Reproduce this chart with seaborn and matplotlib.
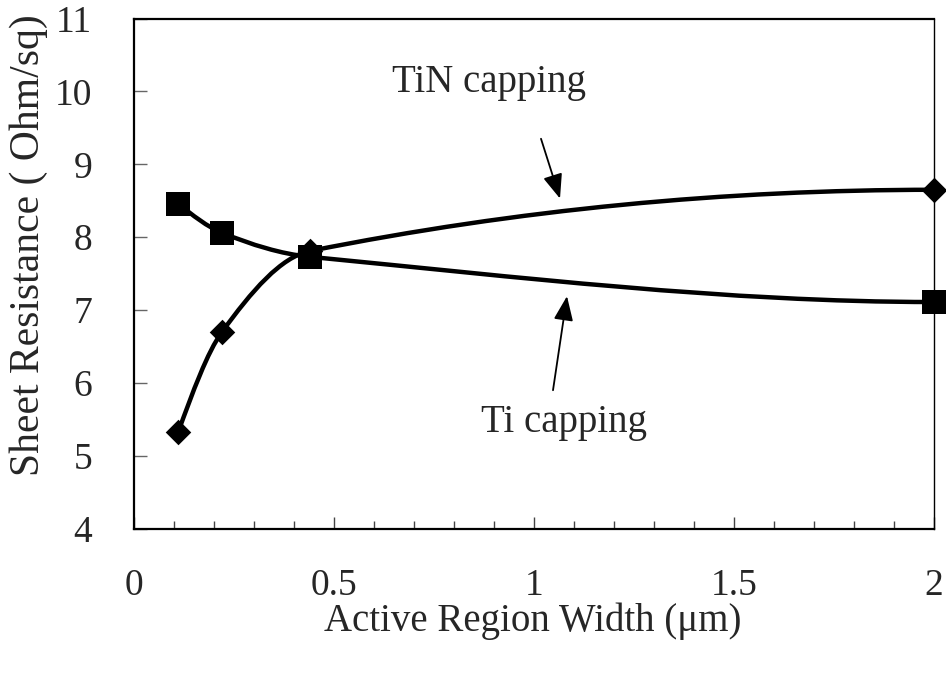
import numpy as np
import pandas as pd
import seaborn as sns
import matplotlib
matplotlib.use("Agg")
import matplotlib.pyplot as plt
from matplotlib.path import Path
from matplotlib.patches import PathPatch
from matplotlib.ticker import MultipleLocator

# ---- data ----
width = [0.11, 0.22, 0.44, 2.0]
ti_capping = [8.46, 8.06, 7.73, 7.11]
tin_capping = [5.32, 6.70, 7.81, 8.65]
x_ticks = [0, 0.5, 1, 1.5, 2]
x_tick_labels = ["0", "0.5", "1", "1.5", "2"]
y_ticks = [4, 5, 6, 7, 8, 9, 10, 11]

sns.set_theme(style="white")
plt.rcParams["font.family"] = ["Liberation Serif", "DejaVu Serif"]

fig = plt.figure(figsize=(9.46, 6.74), dpi=100)
ax = fig.add_axes([134 / 946, 1 - 528.7 / 674, 800 / 946, (528.7 - 18.5) / 674])

df_ti = pd.DataFrame({"w": width, "r": ti_capping})
df_tin = pd.DataFrame({"w": width, "r": tin_capping})


def smooth_path(xs, ys):
    """Smoothed (Excel-like) cubic Bezier path through the data points."""
    x = np.asarray(xs, float)
    y = np.asarray(ys, float)
    n = len(x)
    s = np.diff(y) / np.diff(x)
    m = np.zeros(n)
    for i in range(1, n - 1):
        m[i] = (y[i + 1] - y[i - 1]) / (x[i + 1] - x[i - 1])
    m[0] = (3 * s[0] - m[1]) / 2.0
    m[-1] = 0.0
    verts = [(x[0], y[0])]
    codes = [Path.MOVETO]
    for i in range(n - 1):
        h = x[i + 1] - x[i]
        verts += [(x[i] + h / 3, y[i] + m[i] * h / 3),
                  (x[i + 1] - h / 3, y[i + 1] - m[i + 1] * h / 3),
                  (x[i + 1], y[i + 1])]
        codes += [Path.CURVE4] * 3
    return Path(verts, codes)


for df in (df_ti, df_tin):
    patch = PathPatch(smooth_path(df["w"], df["r"]), facecolor="none",
                      edgecolor="black", lw=3.2, capstyle="round",
                      joinstyle="round", clip_on=False, zorder=3)
    ax.add_patch(patch)

sns.scatterplot(data=df_ti, x="w", y="r", marker="s", s=17.0 ** 2,
                color="black", edgecolor="black", linewidth=0, ax=ax,
                zorder=4)
sns.scatterplot(data=df_tin, x="w", y="r", marker="D", s=13.0 ** 2,
                color="black", edgecolor="black", linewidth=0, ax=ax,
                zorder=5)
for coll in ax.collections:
    coll.set_clip_on(False)

ax.set_xlim(0, 2)
ax.set_ylim(4, 11)
ax.set_xticks(x_ticks)
ax.set_xticklabels(x_tick_labels)
ax.set_yticks(y_ticks)
ax.xaxis.set_minor_locator(MultipleLocator(0.1))

ax.tick_params(axis="x", which="major", direction="in", length=9, width=1.0,
               color="#444444", pad=29, labelsize=27, bottom=True, top=False)
ax.tick_params(axis="x", which="minor", direction="in", length=6, width=1.0,
               color="#444444", bottom=True, top=False)
ax.tick_params(axis="y", which="major", direction="in", length=9, width=1.0,
               color="#666666", pad=30, labelsize=27, left=True, right=False)

for side in ["left", "bottom", "top"]:
    ax.spines[side].set_linewidth(1.6)
    ax.spines[side].set_color("black")
ax.spines["right"].set_linewidth(1.0)
ax.spines["right"].set_color("black")

ax.set_xlabel("Active Region Width (μm)", fontsize=28)
ax.xaxis.set_label_coords(0.4985, -0.145)
ax.set_ylabel("Sheet Resistance ( Ohm/sq)", fontsize=30)
ax.yaxis.set_label_coords(-0.108, 0.555)

ax.text(0.8875, 10.12, "TiN capping", fontsize=28, ha="center", va="center")
ax.text(1.075, 5.46, "Ti capping", fontsize=28, ha="center", va="center")

arrow = dict(arrowstyle="-|>,head_length=0.75,head_width=0.3", color="black",
             lw=1.3, shrinkA=0, shrinkB=0, mutation_scale=20)
ax.annotate("", xy=(1.065, 8.53), xytext=(1.0175, 9.35), arrowprops=arrow)
ax.annotate("", xy=(1.0825, 7.19), xytext=(1.0475, 5.90), arrowprops=arrow)

fig.savefig("out.png", dpi=100)
